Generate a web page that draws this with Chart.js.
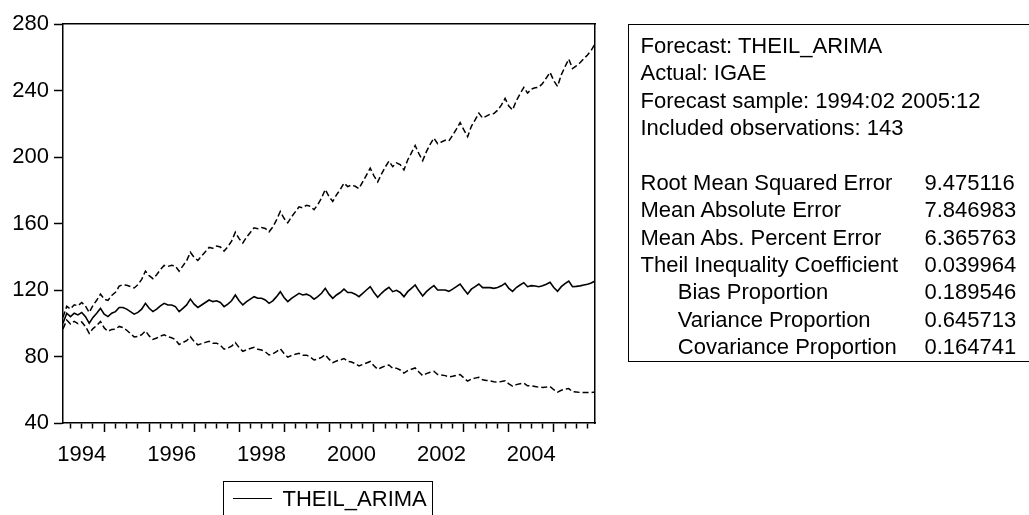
<!DOCTYPE html>
<html>
<head>
<meta charset="utf-8">
<title>THEIL_ARIMA forecast</title>
<script src="https://cdn.jsdelivr.net/npm/chart.js@4.4.1/dist/chart.umd.min.js"></script>
<style>
    body { margin: 0; background: #fff; }
    #wrap {
        position: relative; width: 1029px; height: 515px; overflow: hidden; background: #fff;
        font-family: 'Liberation Sans', Arial, sans-serif; color: #000;
    }
    #chart { position: absolute; left: 0; top: 0; }
    #stats {
        position: absolute; left: 628px; top: 24px; width: 440px; height: 338px;
        border: 1.5px solid #000; box-sizing: border-box; font-size: 22px;
    }
    #stats .cell { position: absolute; height: 27.4px; line-height: 27.4px; white-space: nowrap; }
    #legend {
        position: absolute; left: 223px; top: 481px; width: 210px; height: 60px;
        border: 1.5px solid #000; box-sizing: border-box; font-size: 22px;
    }
    #legend .swatch { position: absolute; left: 8.5px; top: 15.8px; width: 39px; height: 1.5px; background: #000; }
    #legend .text { position: absolute; left: 58.5px; top: 3.5px; line-height: 26px; white-space: nowrap; }
</style>
</head>
<body>
<div id="wrap">
    <canvas id="chart" width="1029" height="515"></canvas>
    <div id="stats"></div>
    <div id="legend"><span class="swatch"></span><span class="text"></span></div>
</div>
<script>
// Série mensal: 1994:02 .. 2005:12 (143 observações)
const startYear = 1994;
const startMonth = 2;
const nObs = 143;

const forecast = [
    100, 106, 104, 106, 105, 106.5, 104, 100, 103.5, 106,
    109, 105.5, 104, 106, 107, 109.5, 109.5, 108.5, 107, 105.5, 106.5, 108.5,
    112, 109, 107, 108.5, 110.5, 112, 111, 111, 110, 107, 109, 111,
    114.5, 111.5, 109.5, 111, 112.5, 114, 113, 113.5, 112.5, 110, 111.5, 113.5,
    117, 113.5, 111, 113, 114.5, 116, 115, 115, 114, 112, 113.5, 116,
    119, 115.5, 113, 115, 116.5, 118, 117, 117.5, 116.5, 114.5, 116, 118,
    121, 117.5, 115, 117, 118.5, 120.5, 118.5, 118.5, 117.5, 116, 118, 120,
    122, 118.5, 115.6, 118, 120, 121.6, 119, 119.8, 118.5, 116, 119, 121,
    123, 119.5, 116.4, 119, 121, 122.6, 120, 120, 120, 119.2, 120.5, 122,
    123.6, 120.5, 117.6, 120.5, 122, 123.6, 121.4, 121.4, 121.4, 121, 121.5, 122.5,
    124, 121, 119.2, 121.5, 123, 124.4, 122, 122.6, 122.4, 122, 122.5, 123.5,
    124.6, 121.5, 119.2, 122, 123.8, 125.4, 122, 122.2, 122.5, 123, 123.5, 124.2,
    125.4
];

// Banda superior (+2 S.E.)
const upperBand = [
    103.6, 110.2, 108.6, 111.1, 110.5, 112.5, 110.3, 106.5, 110.7, 113.8,
    117.5, 114.5, 113.7, 116.7, 118.6, 122.3, 123.2, 122.9, 122.1, 121.2, 123.2, 126.4,
    131.4, 128.6, 126.8, 129.2, 132.3, 134.8, 134.2, 134.9, 134.4, 131.3, 134.5, 137.6,
    142.7, 139.6, 137.8, 140.4, 143.0, 145.6, 145.1, 146.5, 145.9, 143.4, 146.1, 149.4,
    154.8, 150.9, 148.3, 151.8, 154.6, 157.4, 156.8, 157.6, 157.0, 155.0, 157.9, 162.2,
    167.2, 163.1, 160.4, 164.0, 167.0, 170.0, 169.4, 171.0, 170.4, 168.3, 171.3, 175.2,
    180.5, 176.2, 173.3, 177.2, 180.4, 184.3, 182.2, 183.1, 182.4, 181.0, 185.1, 189.1,
    193.3, 188.7, 185.0, 189.7, 193.9, 197.5, 194.2, 196.5, 195.4, 192.2, 198.2, 202.5,
    206.9, 202.0, 197.8, 203.2, 207.6, 211.4, 208.0, 209.0, 210.1, 209.7, 213.1, 216.8,
    220.7, 216.3, 212.2, 218.5, 222.3, 226.4, 223.4, 224.6, 225.7, 226.1, 228.1, 231.2,
    235.2, 230.6, 228.3, 233.9, 238.0, 241.9, 238.4, 240.8, 241.6, 242.0, 244.2, 247.5,
    250.9, 245.9, 242.5, 249.4, 254.3, 258.9, 253.2, 254.8, 256.7, 259.1, 261.4, 264.2,
    268.1
];

// Banda inferior (-2 S.E.)
const lowerBand = [
    96.6, 101.9, 99.6, 101.1, 99.8, 100.8, 98.0, 93.9, 96.8, 98.7,
    101.1, 97.2, 95.1, 96.3, 96.5, 98.1, 97.4, 95.8, 93.8, 91.8, 92.0, 93.1,
    95.4, 92.4, 90.3, 91.1, 92.3, 93.1, 91.8, 91.3, 90.1, 87.2, 88.4, 89.5,
    91.9, 89.0, 87.0, 87.8, 88.5, 89.2, 88.0, 88.0, 86.7, 84.4, 85.1, 86.2,
    88.4, 85.4, 83.1, 84.1, 84.8, 85.5, 84.3, 83.9, 82.8, 80.9, 81.6, 83.0,
    84.7, 81.8, 79.6, 80.6, 81.3, 81.9, 80.8, 80.8, 79.7, 77.9, 78.5, 79.5,
    81.1, 78.4, 76.3, 77.3, 77.9, 78.8, 77.1, 76.7, 75.7, 74.3, 75.2, 76.1,
    77.0, 74.4, 72.3, 73.4, 74.3, 74.9, 72.9, 73.0, 71.9, 70.0, 71.5, 72.3,
    73.1, 70.7, 68.5, 69.7, 70.5, 71.1, 69.2, 68.9, 68.5, 67.8, 68.1, 68.7,
    69.2, 67.1, 65.2, 66.5, 67.0, 67.5, 66.0, 65.6, 65.3, 64.8, 64.7, 64.9,
    65.4, 63.5, 62.2, 63.1, 63.6, 64.0, 62.4, 62.4, 62.0, 61.5, 61.4, 61.6,
    61.9, 60.0, 58.6, 59.7, 60.3, 60.7, 58.8, 58.6, 58.4, 58.4, 58.3, 58.4,
    58.6
];

const yearLabels = ['1994', '1996', '1998', '2000', '2002', '2004'];

const statsHeader = [
    'Forecast: THEIL_ARIMA',
    'Actual: IGAE',
    'Forecast sample: 1994:02 2005:12',
    'Included observations: 143'
];
const statsLabels = [
    'Root Mean Squared Error',
    'Mean Absolute Error',
    'Mean Abs. Percent Error',
    'Theil Inequality Coefficient',
    'Bias Proportion',
    'Variance Proportion',
    'Covariance Proportion'
];
const statsValues = ['9.475116', '7.846983', '6.365763', '0.039964', '0.189546', '0.645713', '0.164741'];
const statsIndent = [false, false, false, false, true, true, true];

const legendLabel = 'THEIL_ARIMA';

document.addEventListener('DOMContentLoaded', () => {
    const FONT = "'Liberation Sans', Arial, sans-serif";

    // Rótulos dos meses ('1994:02', ...)
    const months = [];
    for (let i = 0; i < nObs; i++) {
        const m = startMonth - 1 + i;
        months.push(`${startYear + Math.floor(m / 12)}:${String(m % 12 + 1).padStart(2, '0')}`);
    }

    // Marcas trimestrais no eixo x (jan, abr, jul, out); janeiro = marca maior
    const quarterTicks = [];
    const majorTicks = new Set();
    months.forEach((mes, i) => {
        const mm = mes.slice(5);
        if (['01', '04', '07', '10'].includes(mm)) quarterTicks.push(i);
        if (mm === '01') majorTicks.add(i);
    });

    // Rótulo do ano no meio do ano (julho)
    const yearPos = yearLabels.map(ano => months.indexOf(`${ano}:07`));

    const toPoints = arr => arr.map((v, i) => ({ x: i, y: v }));

    const ctx = document.getElementById('chart').getContext('2d');
    new Chart(ctx, {
        type: 'line',
        data: {
            datasets: [
                {
                    label: legendLabel,
                    data: toPoints(forecast),
                    borderColor: '#000',
                    borderWidth: 1.6,
                    pointRadius: 0
                },
                {
                    label: 'upper',
                    data: toPoints(upperBand),
                    borderColor: '#000',
                    borderWidth: 1.5,
                    borderDash: [6, 3],
                    pointRadius: 0
                },
                {
                    label: 'lower',
                    data: toPoints(lowerBand),
                    borderColor: '#000',
                    borderWidth: 1.5,
                    borderDash: [6, 3],
                    pointRadius: 0
                }
            ]
        },
        options: {
            responsive: false,
            animation: false,
            devicePixelRatio: 1,
            layout: {
                padding: { left: 12, top: 24, right: 434, bottom: 53 }
            },
            plugins: {
                legend: { display: false },
                tooltip: { enabled: false }
            },
            scales: {
                x: {
                    type: 'linear',
                    position: 'bottom',
                    min: 0,
                    max: nObs - 1,
                    afterBuildTicks: axis => {
                        axis.ticks = quarterTicks.map(v => ({ value: v }));
                    },
                    ticks: { display: false },
                    grid: {
                        drawOnChartArea: false,
                        tickLength: 9,
                        tickColor: '#000',
                        tickWidth: 1.5,
                        tickBorderDash: c => (c.tick && majorTicks.has(c.tick.value)) ? [] : [5, 20]
                    },
                    border: { color: '#000', width: 1.5 },
                    afterFit: axis => { axis.height = 9; }
                },
                xLabels: {
                    type: 'linear',
                    position: 'bottom',
                    min: 0,
                    max: nObs - 1,
                    afterBuildTicks: axis => {
                        axis.ticks = yearPos.map(v => ({ value: v }));
                    },
                    ticks: {
                        autoSkip: false,
                        maxRotation: 0,
                        padding: 2,
                        color: '#000',
                        font: { family: FONT, size: 22 },
                        callback: (value, index) => yearLabels[index]
                    },
                    grid: { display: false },
                    border: { display: false },
                    afterFit: axis => { axis.height = 30; }
                },
                xTop: {
                    type: 'linear',
                    position: 'top',
                    min: 0,
                    max: 1,
                    ticks: { display: false },
                    grid: { drawOnChartArea: false, drawTicks: false },
                    border: { color: '#000', width: 1.5 },
                    afterFit: axis => { axis.height = 0; }
                },
                y: {
                    type: 'linear',
                    position: 'left',
                    min: 40,
                    max: 280,
                    ticks: {
                        stepSize: 40,
                        padding: 5,
                        color: '#000',
                        font: { family: FONT, size: 22 }
                    },
                    grid: {
                        drawOnChartArea: false,
                        tickLength: 9,
                        tickColor: '#000',
                        tickWidth: 1.5
                    },
                    border: { color: '#000', width: 1.5 },
                    afterFit: axis => { axis.width = 51; }
                },
                yRight: {
                    type: 'linear',
                    position: 'right',
                    min: 0,
                    max: 1,
                    ticks: { display: false },
                    grid: { drawOnChartArea: false, drawTicks: false },
                    border: { color: '#000', width: 1.5 },
                    afterFit: axis => { axis.width = 0; }
                }
            }
        }
    });

    // Quadro de estatísticas da previsão
    const stats = document.getElementById('stats');
    const rowTop = n => 6.8 + n * 27.4;
    const addCell = (text, left, n) => {
        const el = document.createElement('div');
        el.className = 'cell';
        el.textContent = text;
        el.style.left = left + 'px';
        el.style.top = rowTop(n) + 'px';
        stats.appendChild(el);
    };
    statsHeader.forEach((t, n) => addCell(t, 11.5, n));
    statsLabels.forEach((t, k) => {
        const n = statsHeader.length + 1 + k;
        addCell(t, statsIndent[k] ? 48.8 : 11.5, n);
        addCell(statsValues[k], 295.5, n);
    });

    document.querySelector('#legend .text').textContent = legendLabel;
});
</script>
</body>
</html>
